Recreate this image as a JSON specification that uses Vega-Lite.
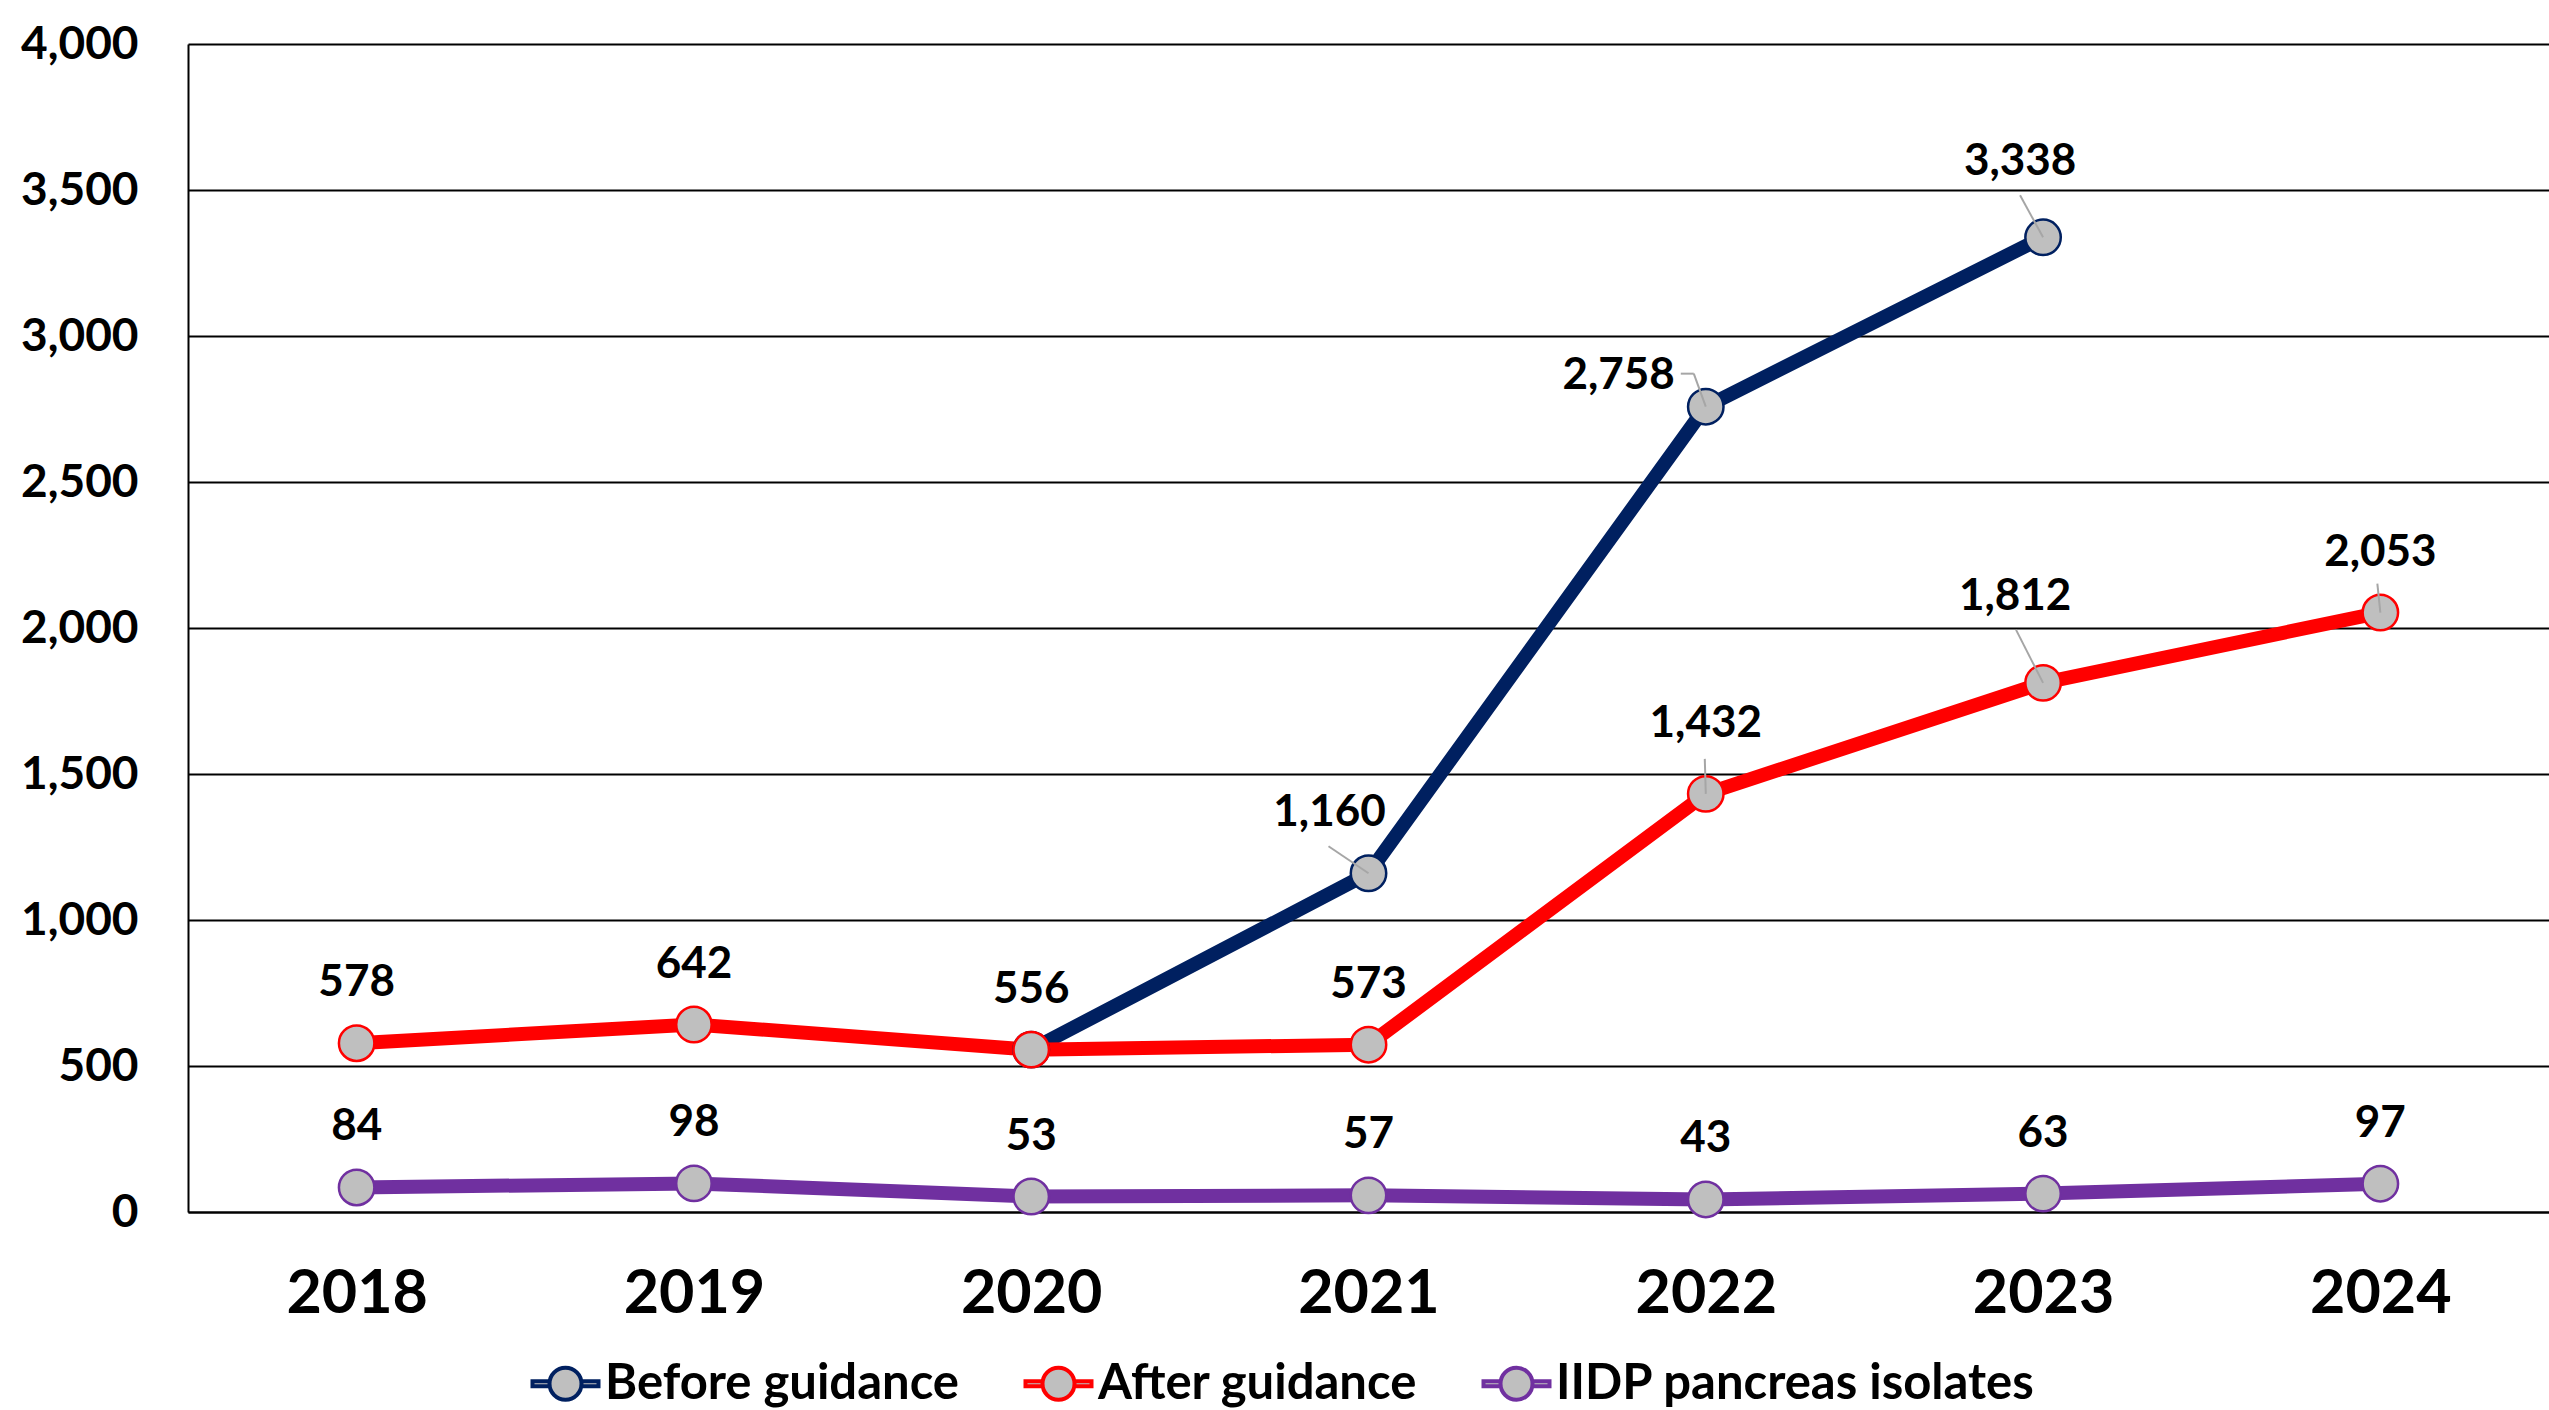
{
  "$schema": "https://vega.github.io/schema/vega-lite/v6.json",
  "width": 2361,
  "height": 1168,
  "autosize": {"type": "none"},
  "padding": {"left": 188, "top": 44, "right": 0, "bottom": 198},
  "background": "white",
  "config": {"view": {"stroke": null}, "font": "Lato"},
  "data": {
    "values": [
      {"series": "Before guidance", "year": "2020", "value": 556},
      {"series": "Before guidance", "year": "2021", "value": 1160},
      {"series": "Before guidance", "year": "2022", "value": 2758},
      {"series": "Before guidance", "year": "2023", "value": 3338},
      {"series": "After guidance", "year": "2018", "value": 578},
      {"series": "After guidance", "year": "2019", "value": 642},
      {"series": "After guidance", "year": "2020", "value": 556},
      {"series": "After guidance", "year": "2021", "value": 573},
      {"series": "After guidance", "year": "2022", "value": 1432},
      {"series": "After guidance", "year": "2023", "value": 1812},
      {"series": "After guidance", "year": "2024", "value": 2053},
      {"series": "IIDP pancreas isolates", "year": "2018", "value": 84},
      {"series": "IIDP pancreas isolates", "year": "2019", "value": 98},
      {"series": "IIDP pancreas isolates", "year": "2020", "value": 53},
      {"series": "IIDP pancreas isolates", "year": "2021", "value": 57},
      {"series": "IIDP pancreas isolates", "year": "2022", "value": 43},
      {"series": "IIDP pancreas isolates", "year": "2023", "value": 63},
      {"series": "IIDP pancreas isolates", "year": "2024", "value": 97}
    ]
  },
  "encoding": {
    "x": {
      "field": "year",
      "type": "ordinal",
      "scale": {"type": "point", "padding": 0.5, "domain": ["2018", "2019", "2020", "2021", "2022", "2023", "2024"]},
      "axis": {
        "title": null,
        "labelAngle": 0,
        "labelFont": "Lato",
        "labelFontSize": 61,
        "labelFontWeight": "bold",
        "labelColor": "black",
        "labelPadding": 52,
        "ticks": false,
        "domainColor": "black",
        "domainWidth": 2,
        "grid": false
      }
    },
    "y": {
      "field": "value",
      "type": "quantitative",
      "scale": {"domain": [0, 4000], "nice": false},
      "axis": {
        "title": null,
        "values": [0, 500, 1000, 1500, 2000, 2500, 3000, 3500, 4000],
        "format": ",d",
        "labelFont": "Lato",
        "labelFontSize": 46,
        "labelFontWeight": "bold",
        "labelColor": "black",
        "labelPadding": 50,
        "ticks": false,
        "domainColor": "black",
        "domainWidth": 2,
        "grid": true,
        "gridColor": "black",
        "gridWidth": 2,
        "gridOpacity": 1
      }
    }
  },
  "layer": [
    {
      "mark": {"type": "line", "strokeWidth": 14, "strokeJoin": "round"},
      "encoding": {
        "stroke": {
          "field": "series",
          "type": "nominal",
          "scale": {
            "domain": ["Before guidance", "After guidance", "IIDP pancreas isolates"],
            "range": ["#002060", "#FF0000", "#7030A0"]
          },
          "legend": {
            "title": null,
            "orient": "none",
            "legendX": 353,
            "legendY": 1315,
            "direction": "horizontal",
            "symbolType": "M-1.65,-0.12H-0.8V0.12H-1.65Z M0.8,-0.12H1.65V0.12H0.8Z M0.8,0A0.8,0.8,0,1,1,-0.8,0A0.8,0.8,0,1,1,0.8,0Z",
            "symbolSize": 1600,
            "symbolStrokeWidth": 4,
            "symbolFillColor": "#BFBFBF",
            "symbolOpacity": 1,
            "labelFont": "Lato",
            "labelFontSize": 49,
            "labelFontWeight": "bold",
            "labelColor": "black",
            "labelOffset": 15,
            "columnPadding": 57,
            "padding": 0,
            "labelLimit": 1000,
            "encode": {
              "symbols": {"update": {"fill": {"value": "#BFBFBF"}, "strokeWidth": {"value": 4}, "opacity": {"value": 1}}}
            }
          }
        }
      }
    },
    {
      "mark": {"type": "point", "filled": true, "fill": "#BFBFBF", "size": 1256, "strokeWidth": 2.5, "opacity": 1},
      "encoding": {
        "stroke": {"field": "series", "type": "nominal"}
      }
    },
    {
      "transform": [{"filter": "datum.series === 'Before guidance' && datum.year === '2023'"}],
      "mark": {"type": "rule", "color": "#A6A6A6", "strokeWidth": 2, "xOffset": -23, "yOffset": -42, "x2Offset": 0, "y2Offset": 0},
      "encoding": {"x2": {"field": "year"}, "y2": {"field": "value"}}
    },
    {
      "transform": [{"filter": "datum.series === 'After guidance' && datum.year === '2023'"}],
      "mark": {"type": "rule", "color": "#A6A6A6", "strokeWidth": 2, "xOffset": -27, "yOffset": -53, "x2Offset": 0, "y2Offset": 0},
      "encoding": {"x2": {"field": "year"}, "y2": {"field": "value"}}
    },
    {
      "transform": [{"filter": "datum.series === 'After guidance' && datum.year === '2024'"}],
      "mark": {"type": "rule", "color": "#A6A6A6", "strokeWidth": 2, "xOffset": -3, "yOffset": -29, "x2Offset": 0, "y2Offset": 0},
      "encoding": {"x2": {"field": "year"}, "y2": {"field": "value"}}
    },
    {
      "transform": [{"filter": "datum.series === 'After guidance' && datum.year === '2022'"}],
      "mark": {"type": "rule", "color": "#A6A6A6", "strokeWidth": 2, "xOffset": -1, "yOffset": -35, "x2Offset": 0, "y2Offset": 0},
      "encoding": {"x2": {"field": "year"}, "y2": {"field": "value"}}
    },
    {
      "transform": [{"filter": "datum.series === 'Before guidance' && datum.year === '2021'"}],
      "mark": {"type": "rule", "color": "#A6A6A6", "strokeWidth": 2, "xOffset": -40, "yOffset": -27, "x2Offset": 0, "y2Offset": 0},
      "encoding": {"x2": {"field": "year"}, "y2": {"field": "value"}}
    },
    {
      "transform": [{"filter": "datum.series === 'Before guidance' && datum.year === '2022'"}],
      "mark": {"type": "rule", "color": "#A6A6A6", "strokeWidth": 2, "xOffset": -12, "yOffset": -33, "x2Offset": 0, "y2Offset": 0},
      "encoding": {"x2": {"field": "year"}, "y2": {"field": "value"}}
    },
    {
      "transform": [{"filter": "datum.series === 'Before guidance' && datum.year === '2022'"}],
      "mark": {"type": "rule", "color": "#A6A6A6", "strokeWidth": 2, "xOffset": -25, "yOffset": -33, "x2Offset": -12, "y2Offset": -33},
      "encoding": {"x2": {"field": "year"}, "y2": {"field": "value"}}
    },
    {
      "transform": [{"filter": "datum.series === 'IIDP pancreas isolates' || (datum.series === 'After guidance' && (datum.year <= '2021' || datum.year === '2024'))"}],
      "mark": {"type": "text", "font": "Lato", "fontSize": 44, "fontWeight": "bold", "color": "black", "dy": -60, "baseline": "middle"},
      "encoding": {"text": {"field": "value", "type": "quantitative", "format": ",d"}}
    },
    {
      "transform": [{"filter": "datum.series === 'After guidance' && datum.year === '2022'"}],
      "mark": {"type": "text", "font": "Lato", "fontSize": 44, "fontWeight": "bold", "color": "black", "dy": -70, "baseline": "middle"},
      "encoding": {"text": {"field": "value", "type": "quantitative", "format": ",d"}}
    },
    {
      "transform": [{"filter": "datum.series === 'After guidance' && datum.year === '2023'"}],
      "mark": {"type": "text", "font": "Lato", "fontSize": 44, "fontWeight": "bold", "color": "black", "dx": -28, "dy": -86, "baseline": "middle"},
      "encoding": {"text": {"field": "value", "type": "quantitative", "format": ",d"}}
    },
    {
      "transform": [{"filter": "datum.series === 'Before guidance' && datum.year === '2021'"}],
      "mark": {"type": "text", "font": "Lato", "fontSize": 44, "fontWeight": "bold", "color": "black", "dx": -39, "dy": -60, "baseline": "middle"},
      "encoding": {"text": {"field": "value", "type": "quantitative", "format": ",d"}}
    },
    {
      "transform": [{"filter": "datum.series === 'Before guidance' && datum.year === '2022'"}],
      "mark": {"type": "text", "font": "Lato", "fontSize": 44, "fontWeight": "bold", "color": "black", "align": "right", "dx": -31, "dy": -31, "baseline": "middle"},
      "encoding": {"text": {"field": "value", "type": "quantitative", "format": ",d"}}
    },
    {
      "transform": [{"filter": "datum.series === 'Before guidance' && datum.year === '2023'"}],
      "mark": {"type": "text", "font": "Lato", "fontSize": 44, "fontWeight": "bold", "color": "black", "dx": -23, "dy": -75, "baseline": "middle"},
      "encoding": {"text": {"field": "value", "type": "quantitative", "format": ",d"}}
    }
  ]
}
